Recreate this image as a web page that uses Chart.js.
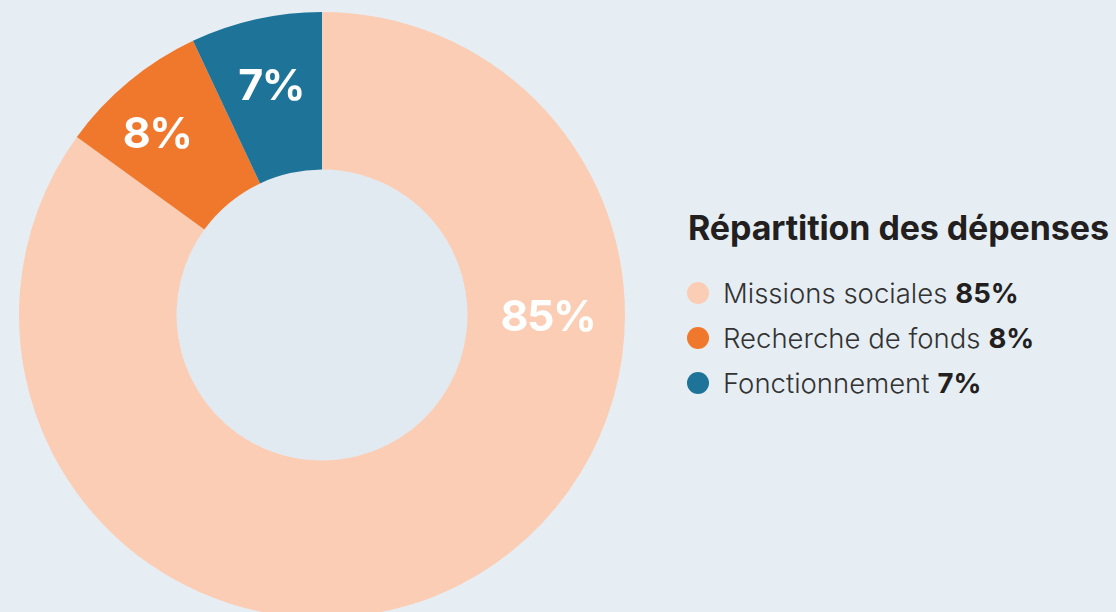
<!DOCTYPE html>
<html lang="fr">
<head>
<meta charset="utf-8">
<script src="https://cdn.jsdelivr.net/npm/chart.js@4/dist/chart.umd.min.js"></script>
<style>
    html, body {
        margin: 0;
        padding: 0;
        width: 1116px;
        height: 612px;
        overflow: hidden;
        background: #e6eef4;
        font-family: Inter, Roboto, sans-serif;
    }
    #donut {
        position: absolute;
        left: 0;
        top: 0;
    }
    #legend {
        position: absolute;
        left: 688px;
        top: 208px;
        color: #231f20;
    }
    #legend h2 {
        margin: 0 0 22px 0;
        font-size: 34px;
        font-weight: 700;
        letter-spacing: -0.1px;
        line-height: 40px;
    }
    #legend ul {
        list-style: none;
        margin: 0;
        padding: 0;
    }
    #legend li {
        display: flex;
        align-items: center;
        height: 45px;
        margin-left: -1px;
        font-size: 27.5px;
        font-weight: 300;
        color: #333333;
    }
    #legend li .dot {
        width: 22px;
        height: 22px;
        border-radius: 50%;
        margin-right: 14px;
    }
    #legend li b {
        font-weight: 700;
        color: #231f20;
        margin-left: 8px;
    }
</style>
</head>
<body>
<canvas id="donut" width="644" height="630"></canvas>
<div id="legend">
    <h2></h2>
    <ul></ul>
</div>
<script>
const legendTitle = 'Répartition des dépenses';
const categories = ['Missions sociales', 'Recherche de fonds', 'Fonctionnement'];
const values = [85, 8, 7];
const sliceColors = ['#fbcdb5', '#f0782d', '#1e7399'];

// legend (html, so the number can be bold)
document.querySelector('#legend h2').textContent = legendTitle;
const ul = document.querySelector('#legend ul');
categories.forEach((name, i) => {
    const li = document.createElement('li');
    const dot = document.createElement('span');
    dot.className = 'dot';
    dot.style.background = sliceColors[i];
    li.appendChild(dot);
    li.appendChild(document.createTextNode(name));
    const b = document.createElement('b');
    b.textContent = values[i] + '%';
    li.appendChild(b);
    ul.appendChild(li);
});

// fills the hole with a slightly darker tone
const holeFill = {
    id: 'holeFill',
    beforeDatasetsDraw(chart, args, opts) {
        const arc = chart.getDatasetMeta(0).data[0];
        if (!arc) return;
        const ctx = chart.ctx;
        ctx.save();
        ctx.fillStyle = opts.color;
        ctx.beginPath();
        ctx.arc(arc.x, arc.y, arc.innerRadius, 0, Math.PI * 2);
        ctx.fill();
        ctx.restore();
    }
};

// white percent labels on the ring
const sliceLabels = {
    id: 'sliceLabels',
    afterDatasetsDraw(chart, args, opts) {
        const ctx = chart.ctx;
        const meta = chart.getDatasetMeta(0);
        ctx.save();
        ctx.fillStyle = '#ffffff';
        ctx.textAlign = 'center';
        ctx.textBaseline = 'middle';
        ctx.font = '700 43px Inter, Roboto, sans-serif';
        ctx.letterSpacing = '-1.5px';
        meta.data.forEach((arc, i) => {
            let angle = (arc.startAngle + arc.endAngle) / 2;
            if (opts.angles[i] != null) angle = opts.angles[i];
            const r = arc.innerRadius + (arc.outerRadius - arc.innerRadius) * opts.radial[i];
            const x = arc.x + Math.cos(angle) * r;
            const y = arc.y + Math.sin(angle) * r;
            ctx.fillText(chart.data.datasets[0].data[i] + '%', x, y);
        });
        ctx.restore();
    }
};

const donutConfig = {
    type: 'doughnut',
    data: {
        labels: categories,
        datasets: [{
            data: values,
            backgroundColor: sliceColors,
            borderWidth: 0,
            hoverOffset: 0,
            offset: 0
        }]
    },
    options: {
        responsive: false,
        devicePixelRatio: 1,
        animation: false,
        events: [],
        cutout: '48%',
        rotation: 0,
        layout: {
            padding: { left: 19, right: 19, top: 12, bottom: 12 }
        },
        plugins: {
            legend: { display: false },
            tooltip: { enabled: false },
            holeFill: { color: '#e1e9f1' },
            sliceLabels: {
                angles: [0.013, -2.313, null],
                radial: [0.51, 0.626, 0.556]
            }
        }
    },
    plugins: [holeFill, sliceLabels]
};

new Chart(document.getElementById('donut').getContext('2d'), donutConfig);
</script>
</body>
</html>
